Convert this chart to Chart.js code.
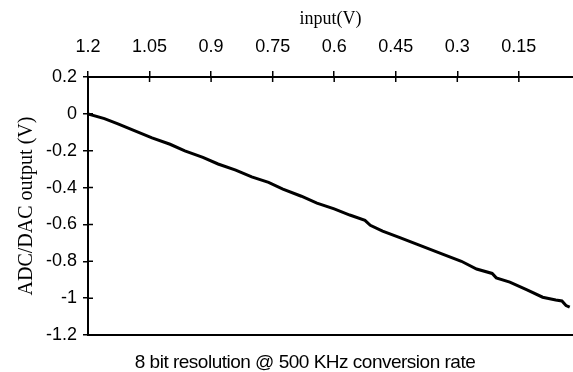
<!DOCTYPE html>
<html>
<head>
<meta charset="utf-8">
<script src="https://cdn.jsdelivr.net/npm/chart.js@4/dist/chart.umd.min.js"></script>
<style>
  body { margin: 0; background: #fff; }
  #wrap { width: 573px; height: 372px; position: relative; }
</style>
</head>
<body>
<div id="wrap"><canvas id="grafico"></canvas></div>
<script>
const inputV = [1.2, 1.16, 1.127, 1.09, 1.044, 1.0, 0.964, 0.92, 0.883, 0.84, 0.801, 0.76,
  0.725, 0.68, 0.642, 0.60, 0.562, 0.525, 0.512, 0.482, 0.44, 0.399, 0.336, 0.29,
  0.253, 0.215, 0.205, 0.172, 0.13, 0.092, 0.06, 0.045, 0.035, 0.026];
const outputV = [0, -0.026, -0.054, -0.088, -0.130, -0.165, -0.201, -0.236, -0.272, -0.305, -0.342, -0.372,
  -0.408, -0.447, -0.484, -0.516, -0.549, -0.578, -0.605, -0.636, -0.672, -0.707, -0.761, -0.800,
  -0.842, -0.866, -0.890, -0.913, -0.955, -0.995, -1.010, -1.015, -1.040, -1.049];

const xTicks = [1.2, 1.05, 0.9, 0.75, 0.6, 0.45, 0.3, 0.15];
const xTickLabels = ['1.2', '1.05', '0.9', '0.75', '0.6', '0.45', '0.3', '0.15'];
const yTicks = [0.2, 0, -0.2, -0.4, -0.6, -0.8, -1, -1.2];
const yTickLabels = ['0.2', '0', '-0.2', '-0.4', '-0.6', '-0.8', '-1', '-1.2'];
const caption = '8 bit resolution @ 500 KHz conversion rate';

const pontos = inputV.map((v, i) => ({ x: v, y: outputV[i] }));

// inner half of the tick marks + caption under the plot
const extras = {
  id: 'extras',
  afterDraw(chart) {
    const ctx = chart.ctx;
    const area = chart.chartArea;
    const sx = chart.scales.x;
    const sy = chart.scales.y;
    ctx.save();
    ctx.strokeStyle = '#000';
    ctx.lineWidth = 1.5;
    ctx.beginPath();
    xTicks.forEach(v => {
      const px = sx.getPixelForValue(v);
      ctx.moveTo(px, area.top);
      ctx.lineTo(px, area.top + 5);
    });
    yTicks.forEach(v => {
      const py = sy.getPixelForValue(v);
      ctx.moveTo(area.left, py);
      ctx.lineTo(area.left + 5, py);
    });
    ctx.stroke();
    ctx.fillStyle = '#000';
    ctx.font = '19px "Liberation Sans", Arial, sans-serif';
    ctx.letterSpacing = '-0.5px';
    ctx.textAlign = 'center';
    ctx.textBaseline = 'middle';
    ctx.fillText(caption, 305, 363);
    ctx.restore();
  }
};

const ctx = document.getElementById('grafico').getContext('2d');
new Chart(ctx, {
  type: 'line',
  data: {
    datasets: [{
      data: pontos,
      borderColor: '#000',
      borderWidth: 3,
      pointRadius: 0,
      tension: 0,
      fill: false
    }]
  },
  options: {
    responsive: true,
    maintainAspectRatio: false,
    animation: false,
    layout: { padding: 0 },
    plugins: {
      legend: { display: false },
      tooltip: { enabled: false }
    },
    scales: {
      x: {
        type: 'linear',
        position: 'top',
        reverse: true,
        min: 0.018,
        max: 1.2,
        afterBuildTicks: s => { s.ticks = xTicks.map(v => ({ value: v })); },
        afterFit: s => { s.height = 77; },
        ticks: {
          color: '#000',
          padding: 13,
          maxRotation: 0,
          autoSkip: false,
          font: { family: '"Liberation Sans", Arial, sans-serif', size: 18 },
          callback: (v, i) => xTickLabels[i]
        },
        grid: { drawOnChartArea: false, tickLength: 6, color: '#000', lineWidth: 1.5 },
        border: { display: true, color: '#000', width: 2 },
        title: {
          display: true,
          text: 'input(V)',
          color: '#000',
          padding: { top: 8, bottom: 0 },
          font: { family: '"Liberation Serif", "Times New Roman", serif', size: 18 }
        }
      },
      x2: {
        type: 'linear',
        position: 'bottom',
        min: 0,
        max: 1,
        afterFit: s => { s.height = 37; },
        ticks: { display: false },
        grid: { display: false },
        border: { display: true, color: '#000', width: 2 }
      },
      y: {
        type: 'linear',
        min: -1.2,
        max: 0.2,
        afterBuildTicks: s => { s.ticks = yTicks.map(v => ({ value: v })); },
        afterFit: s => { s.width = 88; },
        ticks: {
          color: '#000',
          padding: 6,
          autoSkip: false,
          font: { family: '"Liberation Sans", Arial, sans-serif', size: 18 },
          callback: (v, i) => yTickLabels[i]
        },
        grid: { drawOnChartArea: false, tickLength: 5, color: '#000', lineWidth: 1.5 },
        border: { display: true, color: '#000', width: 2 },
        title: {
          display: true,
          text: 'ADC/DAC output (V)',
          color: '#000',
          padding: { top: 15, bottom: 0 },
          font: { family: '"Liberation Serif", "Times New Roman", serif', size: 20 }
        }
      }
    }
  },
  plugins: [extras]
});
</script>
</body>
</html>
